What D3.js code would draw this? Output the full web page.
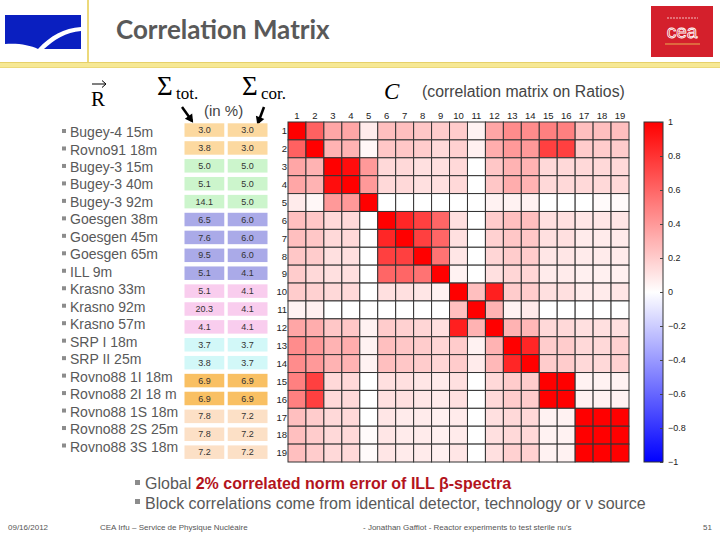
<!DOCTYPE html>
<html>
<head>
<meta charset="utf-8">
<title>Correlation Matrix</title>
<script src="https://d3js.org/d3.v7.min.js"></script>
<style>
  body { margin: 0; background: #fff; }
  svg { display: block; }
</style>
</head>
<body>
<svg width="720" height="540"></svg>
<script>
// ---- data ----
const sources = ["Bugey-4 15m", "Rovno91 18m", "Bugey-3 15m", "Bugey-3 40m", "Bugey-3 92m",
  "Goesgen 38m", "Goesgen 45m", "Goesgen 65m", "ILL 9m", "Krasno 33m", "Krasno 92m",
  "Krasno 57m", "SRP I 18m", "SRP II 25m", "Rovno88 1I 18m", "Rovno88 2I 18 m",
  "Rovno88 1S 18m", "Rovno88 2S 25m", "Rovno88 3S 18m"];
const sigmaTot = ["3.0", "3.8", "5.0", "5.1", "14.1", "6.5", "7.6", "9.5", "5.1", "5.1",
  "20.3", "4.1", "3.7", "3.8", "6.9", "6.9", "7.8", "7.8", "7.2"];
const sigmaCor = ["3.0", "3.0", "5.0", "5.0", "5.0", "6.0", "6.0", "6.0", "4.1", "4.1",
  "4.1", "4.1", "3.7", "3.7", "6.9", "6.9", "7.2", "7.2", "7.2"];
const groups = [0, 0, 1, 1, 1, 2, 2, 2, 2, 3, 3, 3, 4, 4, 5, 5, 6, 6, 6];
const indices = d3.range(1, 20);
const corr = [
  [1, .62, .35, .35, .08, .25, .25, .22, .2, .2, .05, .35, .45, .45, .5, .5, .25, .25, .25],
  [.62, 1, .3, .3, .03, .22, .22, .2, .15, .18, .06, .32, .4, .4, .75, .75, .2, .2, .2],
  [.35, .3, 1, .95, .4, .15, .15, .12, .12, .15, 0, .22, .3, .3, .15, .15, .15, .15, .15],
  [.35, .3, .95, 1, .4, .15, .15, .12, .12, .15, 0, .22, .32, .3, .15, .15, .15, .15, .15],
  [.08, .03, .4, .4, 1, 0, 0, 0, 0, 0, 0, .05, .05, .05, 0, 0, 0, .02, .02],
  [.25, .22, .15, .15, 0, 1, .85, .75, .6, .12, 0, .2, .25, .25, .12, .12, .1, .1, .1],
  [.25, .22, .15, .15, 0, .85, 1, .75, .6, .12, 0, .18, .22, .22, .12, .12, .08, .08, .08],
  [.22, .2, .12, .12, 0, .75, .75, 1, .55, .1, 0, .16, .2, .2, .1, .1, .08, .08, .08],
  [.2, .15, .12, .12, 0, .6, .6, .55, 1, .05, 0, .12, .16, .16, .08, .08, .06, .06, .06],
  [.2, .18, .15, .15, 0, .12, .12, .1, .05, 1, .25, .88, .2, .2, .12, .12, .08, .08, .1],
  [.05, .06, 0, 0, 0, 0, 0, 0, 0, .25, 1, .3, .05, .08, 0, 0, 0, 0, 0],
  [.35, .32, .22, .22, .05, .2, .18, .16, .12, .88, .3, 1, .3, .28, .15, .15, .12, .12, .12],
  [.45, .4, .3, .32, .05, .25, .22, .2, .16, .2, .05, .3, 1, .85, .2, .2, .15, .15, .18],
  [.45, .4, .3, .3, .05, .25, .22, .2, .16, .2, .08, .28, .85, 1, .2, .2, .15, .15, .18],
  [.5, .75, .15, .15, 0, .12, .12, .1, .08, .12, 0, .15, .2, .2, 1, 1, .05, .05, .05],
  [.5, .75, .15, .15, 0, .12, .12, .1, .08, .12, 0, .15, .2, .2, 1, 1, .05, .05, .05],
  [.25, .2, .15, .15, 0, .1, .08, .08, .06, .08, 0, .12, .15, .15, .05, .05, 1, 1, 1],
  [.25, .2, .15, .15, .02, .1, .08, .08, .06, .08, 0, .12, .15, .15, .05, .05, 1, 1, 1],
  [.25, .2, .15, .15, .02, .1, .08, .08, .06, .1, 0, .12, .18, .18, .05, .05, 1, 1, 1]
];
const cbarTicks = [1, 0.8, 0.6, 0.4, 0.2, 0, -0.2, -0.4, -0.6, -0.8, -1];

// ---- styling ----
const groupFill = ["#fcd9a0", "#ccf5cc", "#aaaae8", "#f9cdee", "#d2f8f8", "#f9c063", "#fce0c6"];
const grey = "#595959";
const svg = d3.select("svg");

// slide header
svg.append("rect").attr("x", 0).attr("y", 62).attr("width", 720).attr("height", 6).attr("fill", "#f6e894");
svg.append("line").attr("x1", 0).attr("x2", 720).attr("y1", 62.5).attr("y2", 62.5).attr("stroke", "#e6d06a");
svg.append("line").attr("x1", 0).attr("x2", 720).attr("y1", 67.5).attr("y2", 67.5).attr("stroke", "#ecd97a");
svg.append("rect").attr("x", 87).attr("y", 0).attr("width", 2).attr("height", 62).attr("fill", "#ecd97a");

// left logo
svg.append("path")
  .attr("d", "M5,15 L81,15 L81,49 L38,49 C30,45 18,43 5,44 Z")
  .attr("fill", "#0a1fc0");
svg.append("path")
  .attr("d", "M38,49 C50,36 64,28 81,27 L81,31 C66,32 54,40 44,49 Z")
  .attr("fill", "#fff");

// cea logo
svg.append("rect").attr("x", 651).attr("y", 6).attr("width", 62).attr("height", 51).attr("fill", "#d4202c");
svg.append("text").attr("x", 682).attr("y", 38).attr("text-anchor", "middle")
  .attr("font-family", "Liberation Sans").attr("font-size", 19).attr("fill", "none")
  .attr("stroke", "#fff").attr("stroke-width", 0.8).text("cea");
svg.append("line").attr("x1", 665).attr("x2", 700).attr("y1", 44).attr("y2", 44)
  .attr("stroke", "#e8b050").attr("stroke-width", 1.2);
svg.append("line").attr("x1", 667).attr("x2", 698).attr("y1", 18).attr("y2", 18)
  .attr("stroke", "#f3c0c0").attr("stroke-width", 1).attr("stroke-dasharray", "2,1");

svg.append("text").attr("x", 116).attr("y", 39)
  .attr("font-family", "Lato").attr("font-weight", "bold").attr("font-size", 26)
  .attr("fill", grey).text("Correlation Matrix");

// math header
const serif = "Liberation Serif";
svg.append("text").attr("x", 91).attr("y", 106).attr("font-family", serif).attr("font-size", 21).text("R");
svg.append("path").attr("d", "M92,84 L105,84 M102,80.5 L106,84 L102,87.5")
  .attr("fill", "none").attr("stroke", "#000").attr("stroke-width", 1);
svg.append("text").attr("x", 157).attr("y", 95).attr("font-family", serif).attr("font-size", 27).text("Σ");
svg.append("text").attr("x", 176).attr("y", 99).attr("font-family", serif).attr("font-size", 17).text("tot.");
svg.append("text").attr("x", 242).attr("y", 95).attr("font-family", serif).attr("font-size", 27).text("Σ");
svg.append("text").attr("x", 261).attr("y", 99).attr("font-family", serif).attr("font-size", 17).text("cor.");
svg.append("text").attr("x", 384).attr("y", 99).attr("font-family", serif).attr("font-style", "italic")
  .attr("font-size", 23).text("C");
svg.append("text").attr("x", 422).attr("y", 97).attr("font-family", "Liberation Sans")
  .attr("font-size", 15.8).attr("fill", "#444").text("(correlation matrix on Ratios)");
svg.append("text").attr("x", 204).attr("y", 116).attr("font-family", "Liberation Sans")
  .attr("font-size", 15).attr("fill", "#444").text("(in %)");

// arrows
const arrow = (x1, y1, x2, y2) => {
  svg.append("line").attr("x1", x1).attr("y1", y1).attr("x2", x2).attr("y2", y2)
    .attr("stroke", "#000").attr("stroke-width", 2.5);
  const a = Math.atan2(y2 - y1, x2 - x1), L = 8, W = 4.5;
  const bx = x2 + Math.cos(a) * 2, by = y2 + Math.sin(a) * 2;
  const p = [[bx, by],
    [bx - L * Math.cos(a) + W * Math.sin(a), by - L * Math.sin(a) - W * Math.cos(a)],
    [bx - L * Math.cos(a) - W * Math.sin(a), by - L * Math.sin(a) + W * Math.cos(a)]];
  svg.append("path").attr("d", "M" + p.join("L") + "Z").attr("fill", "#000");
};
arrow(182, 107, 192, 121);
arrow(264, 107, 258, 123);

// scales
const x = d3.scaleBand().domain(indices).range([288, 629]);
const y = d3.scaleBand().domain(indices).range([122, 462]);
const color = d3.scaleLinear().domain([-1, 0, 1]).range(["#0000ff", "#ffffff", "#ff0000"]);
const listY = d3.scalePoint().domain(sources).range([132, 446.5]);
const tableX = d3.scaleBand().domain(["tot", "cor"]).range([184.5, 267.5]).paddingInner(0.08);

// source list
const list = svg.append("g").attr("font-family", "Liberation Sans").attr("font-size", 14);
list.selectAll("rect").data(sources).join("rect")
  .attr("x", 62).attr("y", d => listY(d) - 3).attr("width", 4).attr("height", 4).attr("fill", "#8c8c8c");
list.selectAll("text").data(sources).join("text")
  .attr("x", 70).attr("y", d => listY(d)).attr("dy", "0.36em").attr("fill", grey).text(d => d);

// sigma table
const table = svg.append("g");
indices.forEach((r, i) => {
  [["tot", sigmaTot[i]], ["cor", sigmaCor[i]]].forEach(([k, v]) => {
    table.append("rect").attr("x", tableX(k)).attr("y", y(r) + 1.3)
      .attr("width", tableX.bandwidth()).attr("height", 13.5).attr("fill", groupFill[groups[i]]);
    table.append("text").attr("x", tableX(k) + tableX.bandwidth() / 2).attr("y", y(r) + 8)
      .attr("dy", "0.35em").attr("text-anchor", "middle")
      .attr("font-family", "Liberation Sans").attr("font-size", 9).attr("fill", "#333").text(v);
  });
});

// matrix
const cells = [];
corr.forEach((row, i) => row.forEach((v, j) => cells.push({ r: indices[i], c: indices[j], v })));
svg.append("g").selectAll("rect").data(cells).join("rect")
  .attr("x", d => x(d.c)).attr("y", d => y(d.r))
  .attr("width", x.bandwidth()).attr("height", y.bandwidth())
  .attr("fill", d => color(d.v)).attr("stroke", "#333").attr("stroke-width", 1);

const lab = svg.append("g").attr("font-family", "Liberation Sans").attr("font-size", 9.5).attr("fill", "#222");
lab.selectAll(".col").data(indices).join("text").attr("class", "col")
  .attr("x", d => x(d) + x.bandwidth() / 2).attr("y", 119).attr("text-anchor", "middle").text(d => d);
lab.selectAll(".row").data(indices).join("text").attr("class", "row")
  .attr("x", 287).attr("y", d => y(d) + y.bandwidth() / 2).attr("dy", "0.35em")
  .attr("text-anchor", "end").text(d => d);

// colour bar
const cbar = d3.scaleLinear().domain([-1, 1]).range([462, 122]);
const grad = svg.append("defs").append("linearGradient").attr("id", "cb")
  .attr("x1", 0).attr("x2", 0).attr("y1", 1).attr("y2", 0);
grad.selectAll("stop").data(d3.range(-1, 1.001, 0.05)).join("stop")
  .attr("offset", d => (d + 1) / 2).attr("stop-color", d => color(d));
svg.append("rect").attr("x", 644).attr("y", cbar(1)).attr("width", 19)
  .attr("height", cbar(-1) - cbar(1)).attr("fill", "url(#cb)").attr("stroke", "#333");
const cax = svg.append("g").attr("transform", "translate(663,0)")
  .call(d3.axisRight(cbar).tickValues(cbarTicks).tickSize(-3).tickPadding(5)
    .tickFormat(d => d3.format("")(d).replace("-", "−")));
cax.select(".domain").remove();
cax.selectAll("line").attr("stroke", "#444");
cax.selectAll("text").attr("font-family", "Liberation Sans").attr("font-size", 9).attr("fill", "#222");

// bottom bullets
const b = svg.append("g").attr("font-family", "Liberation Sans").attr("font-size", 16);
b.append("rect").attr("x", 135).attr("y", 480).attr("width", 5).attr("height", 5).attr("fill", "#8c8c8c");
b.append("rect").attr("x", 135).attr("y", 499).attr("width", 5).attr("height", 5).attr("fill", "#8c8c8c");
const t1 = b.append("text").attr("x", 145).attr("y", 489);
t1.append("tspan").attr("fill", grey).text("Global ");
t1.append("tspan").attr("fill", "#b3141c").attr("font-weight", "bold").text("2% correlated norm error of ILL β-spectra");
b.append("text").attr("x", 145).attr("y", 509).attr("fill", grey)
  .text("Block correlations come from identical detector, technology or ν source");

// footer
const f = svg.append("g").attr("font-family", "Liberation Sans").attr("font-size", 8).attr("fill", "#555");
f.append("text").attr("x", 8).attr("y", 530).text("09/16/2012");
f.append("text").attr("x", 100).attr("y", 530).text("CEA Irfu – Service de Physique Nucléaire");
f.append("text").attr("x", 363).attr("y", 530).text("- Jonathan Gaffiot - Reactor experiments to test sterile nu's");
f.append("text").attr("x", 703).attr("y", 530).text("51");
</script>
</body>
</html>
